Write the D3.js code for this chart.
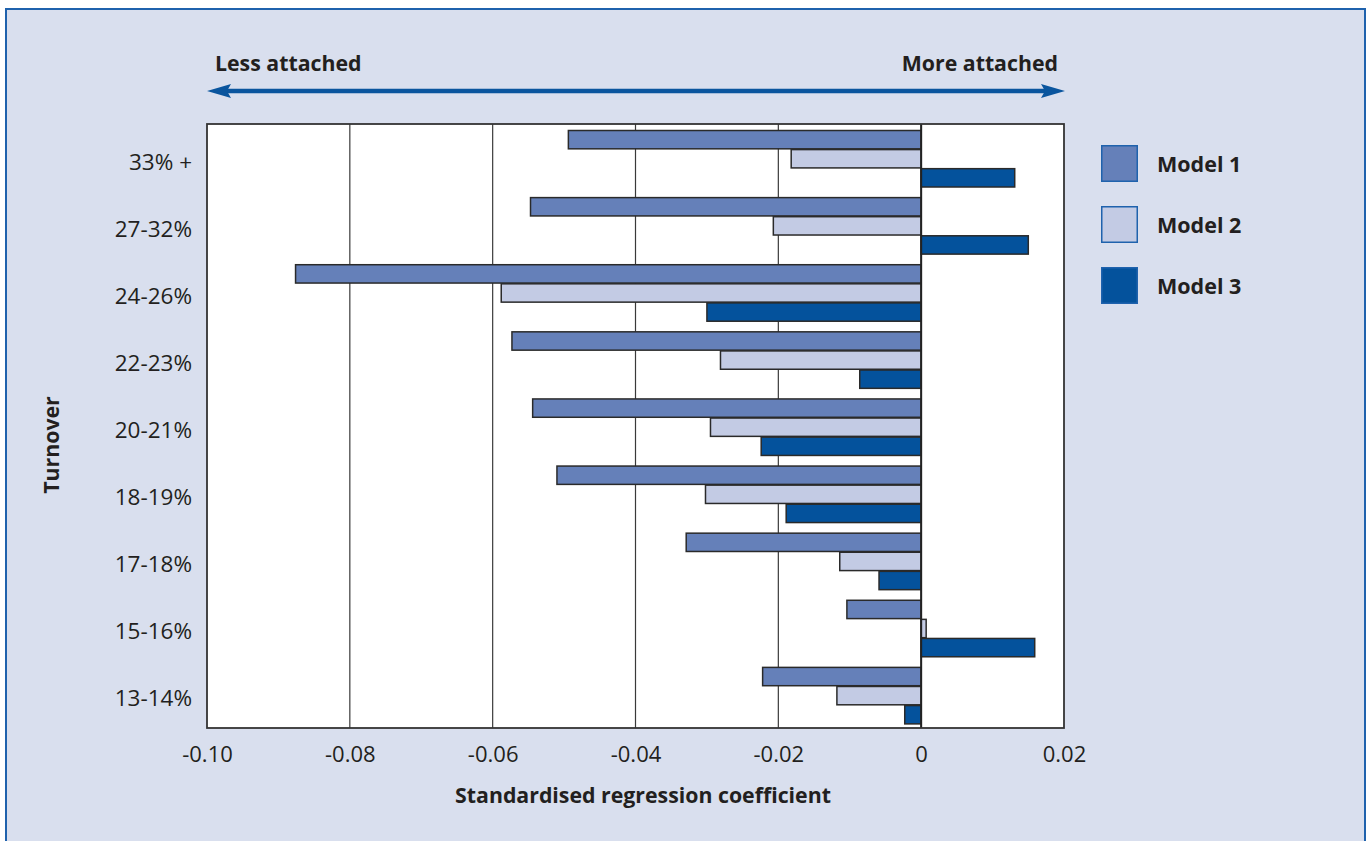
<!DOCTYPE html>
<html>
<head>
<meta charset="utf-8">
<script src="https://cdn.jsdelivr.net/npm/d3@7"></script>
<style>
  html, body { margin: 0; padding: 0; background: #ffffff; }
  svg { display: block; }
  text { font-family: "Open Sans", "Noto Sans", sans-serif; fill: #231f20; }
</style>
</head>
<body>
<svg id="chart" width="1370" height="841"></svg>
<script>
// ---- data ----
const categories = ["33% +", "27-32%", "24-26%", "22-23%", "20-21%", "18-19%", "17-18%", "15-16%", "13-14%"];
const seriesNames = ["Model 1", "Model 2", "Model 3"];
const model1 = [-0.0494, -0.0547, -0.0876, -0.0573, -0.0544, -0.0510, -0.0329, -0.0104, -0.0222];
const model2 = [-0.0182, -0.0207, -0.0588, -0.0281, -0.0295, -0.0302, -0.0114, 0.0007, -0.0118];
const model3 = [0.0131, 0.0150, -0.0300, -0.0086, -0.0224, -0.0189, -0.0059, 0.0159, -0.0023];
const xTicks = [-0.10, -0.08, -0.06, -0.04, -0.02, 0, 0.02];
const xTickLabels = ["-0.10", "-0.08", "-0.06", "-0.04", "-0.02", "0", "0.02"];
const colors = ["#6580b9", "#c3cbe4", "#04529c"];

const seriesValues = [model1, model2, model3];
const rows = [];
categories.forEach((c, i) => {
  seriesNames.forEach((s, j) => rows.push({ cat: c, series: s, value: seriesValues[j][i], idx: j }));
});

const svg = d3.select("#chart");

// background panel
svg.append("rect").attr("x", 0).attr("y", 0).attr("width", 1370).attr("height", 841).attr("fill", "#ffffff");
svg.append("rect").attr("x", 6).attr("y", 9).attr("width", 1359).attr("height", 845)
  .attr("fill", "#d9dfee").attr("stroke", "#1f62ad").attr("stroke-width", 2);

const plot = { left: 207, right: 1064, top: 124, bottom: 728 };

const x = d3.scaleLinear().domain([-0.10, 0.02]).range([plot.left, plot.right]);
const y = d3.scaleBand().domain(categories).range([plot.top, plot.bottom]).padding(0);
const yInner = d3.scaleBand().domain(seriesNames).range([6.5, 63]).paddingInner(0.04);

// plot frame
svg.append("rect").attr("x", plot.left).attr("y", plot.top)
  .attr("width", plot.right - plot.left).attr("height", plot.bottom - plot.top)
  .attr("fill", "#ffffff");

// gridlines
svg.append("g").selectAll("line").data(xTicks.filter(t => t > -0.10 && t < 0.02)).join("line")
  .attr("x1", d => x(d)).attr("x2", d => x(d))
  .attr("y1", plot.top).attr("y2", plot.bottom)
  .attr("stroke", "#3a3a3a").attr("stroke-width", 1.2);

// bars
svg.append("g").selectAll("rect").data(rows).join("rect")
  .attr("x", d => x(Math.min(0, d.value)))
  .attr("y", d => y(d.cat) + yInner(d.series))
  .attr("width", d => Math.abs(x(d.value) - x(0)))
  .attr("height", yInner.bandwidth())
  .attr("fill", d => colors[d.idx])
  .attr("stroke", "#2a2a2a").attr("stroke-width", 1.5);

// zero line
svg.append("line").attr("x1", x(0)).attr("x2", x(0)).attr("y1", plot.top).attr("y2", plot.bottom)
  .attr("stroke", "#222").attr("stroke-width", 2);

// frame border
svg.append("rect").attr("x", plot.left).attr("y", plot.top)
  .attr("width", plot.right - plot.left).attr("height", plot.bottom - plot.top)
  .attr("fill", "none").attr("stroke", "#333").attr("stroke-width", 1.8);

// x axis labels
const xAxis = d3.axisBottom(x).tickValues(xTicks).tickFormat((d, i) => xTickLabels[i]).tickSize(0).tickPadding(0);
const gx = svg.append("g").attr("transform", `translate(0,${plot.bottom})`).call(xAxis);
gx.select(".domain").remove();
gx.selectAll("text").attr("font-size", 22).attr("font-family", "Open Sans, sans-serif")
  .attr("fill", "#231f20").attr("dy", null).attr("y", 34);

// y axis labels
const yAxis = d3.axisLeft(y).tickSize(0).tickPadding(0);
const gy = svg.append("g").attr("transform", `translate(${192},0)`).call(yAxis);
gy.select(".domain").remove();
gy.selectAll("text").attr("font-size", 22.5).attr("font-family", "Open Sans, sans-serif")
  .attr("fill", "#231f20").attr("dy", "0").attr("y", 12).attr("x", 0);

// axis titles
svg.append("text").attr("x", 643).attr("y", 803).attr("text-anchor", "middle")
  .attr("font-size", 21.3).attr("font-weight", "bold").text("Standardised regression coefficient");
svg.append("text").attr("transform", "translate(59,445) rotate(-90)").attr("text-anchor", "middle")
  .attr("font-size", 21.3).attr("font-weight", "bold").text("Turnover");

// direction arrow
const arrowY = 91;
const arrowColor = "#0a559e";
svg.append("line").attr("x1", x(-0.10) + 18).attr("x2", x(0.02) - 18)
  .attr("y1", arrowY).attr("y2", arrowY).attr("stroke", arrowColor).attr("stroke-width", 4.5);
svg.append("path")
  .attr("d", `M${x(-0.10)},${arrowY} L${x(-0.10) + 24},${arrowY - 7} L${x(-0.10) + 20},${arrowY} L${x(-0.10) + 24},${arrowY + 7} Z`)
  .attr("fill", arrowColor);
svg.append("path")
  .attr("d", `M${x(0.02) + 1},${arrowY} L${x(0.02) - 23},${arrowY - 7} L${x(0.02) - 19},${arrowY} L${x(0.02) - 23},${arrowY + 7} Z`)
  .attr("fill", arrowColor);
svg.append("text").attr("x", 215).attr("y", 71).attr("font-size", 21.3).attr("font-weight", "bold").text("Less attached");
svg.append("text").attr("x", 1058).attr("y", 71).attr("text-anchor", "end").attr("font-size", 21.3).attr("font-weight", "bold").text("More attached");

// legend
const legend = svg.append("g").selectAll("g").data(seriesNames).join("g")
  .attr("transform", (d, i) => `translate(1101,${145 + i * 61})`);
legend.append("rect").attr("x", 0.75).attr("y", 0.75).attr("width", 35.5).attr("height", 35.5)
  .attr("fill", (d, i) => colors[i]).attr("stroke", "#1f62ad").attr("stroke-width", 1.5);
legend.append("text").attr("x", 56).attr("y", 27).attr("font-size", 21.5).attr("font-weight", "bold").text(d => d);
</script>
</body>
</html>
